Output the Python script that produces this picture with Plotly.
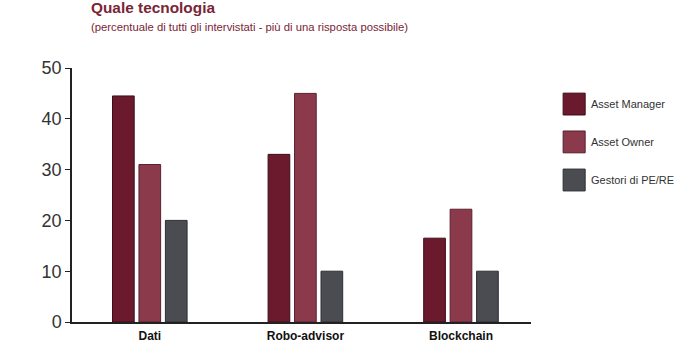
import plotly.graph_objects as go

categories = ["Dati", "Robo-advisor", "Blockchain"]
series_names = ["Asset Manager", "Asset Owner", "Gestori di PE/RE"]
asset_manager = [44.5, 33, 16.5]
asset_owner = [31, 45, 22.2]
gestori_pe_re = [20, 10, 10]
y_ticks = [0, 10, 20, 30, 40, 50]

colors = ["#6a1a2c", "#8a3a4b", "#4a4c51"]
line_colors = ["#3f0d18", "#5a2030", "#2c2e31"]
values = [asset_manager, asset_owner, gestori_pe_re]

fig = go.Figure()
for name, vals, c, lc in zip(series_names, values, colors, line_colors):
    fig.add_trace(go.Bar(
        x=categories, y=vals, name=name,
        marker=dict(color=c, line=dict(color=lc, width=1)),
        showlegend=False,
    ))

font_family = "Liberation Sans, Arial, sans-serif"

# Custom legend (large squares)
legend_y = [0.858, 0.709, 0.559]
for name, c, lc, ly in zip(series_names, colors, line_colors, legend_y):
    fig.add_shape(type="rect", xref="paper", yref="paper",
                  x0=1.070, x1=1.118, y0=ly - 0.043, y1=ly + 0.043,
                  fillcolor=c, line=dict(color=lc, width=1))
    fig.add_annotation(x=1.127, y=ly, xref="paper", yref="paper",
                       text=name, showarrow=False, xanchor="left", yanchor="middle",
                       font=dict(family=font_family, size=11, color="#333333"))

fig.add_annotation(x=0.036, y=1.238, xref="paper", yref="paper", xanchor="left", yanchor="middle",
                   text="<b>Quale tecnologia</b>", showarrow=False,
                   font=dict(family=font_family, size=15.4, color="#7a2536"))
fig.add_annotation(x=0.036, y=1.163, xref="paper", yref="paper", xanchor="left", yanchor="middle",
                   text="(percentuale di tutti gli intervistati - più di una risposta possibile)",
                   showarrow=False,
                   font=dict(family=font_family, size=11.3, color="#7a2536"))

fig.update_layout(
    width=700, height=348,
    margin=dict(l=72, r=169, t=68, b=26, autoexpand=False),
    paper_bgcolor="white", plot_bgcolor="white",
    barmode="group", bargap=0.49, bargroupgap=0.18,
    font=dict(family=font_family, color="#333333"),
)
fig.update_xaxes(
    range=[-0.5, 2.45],
    showline=True, linecolor="#222222", linewidth=1.5, automargin=False,
    showgrid=False, ticks="", tickfont=dict(size=12, color="#111111", weight="bold"),
    ticklabelstandoff=2,
)
fig.update_yaxes(
    range=[0, 50], tickvals=y_ticks, showline=True, linecolor="#222222", linewidth=1.5,
    showgrid=False, zeroline=False, ticks="outside", ticklen=5, tickcolor="#222222",
    automargin=False, tickfont=dict(size=18, color="#333333"),
)

fig.write_html("out.html")
